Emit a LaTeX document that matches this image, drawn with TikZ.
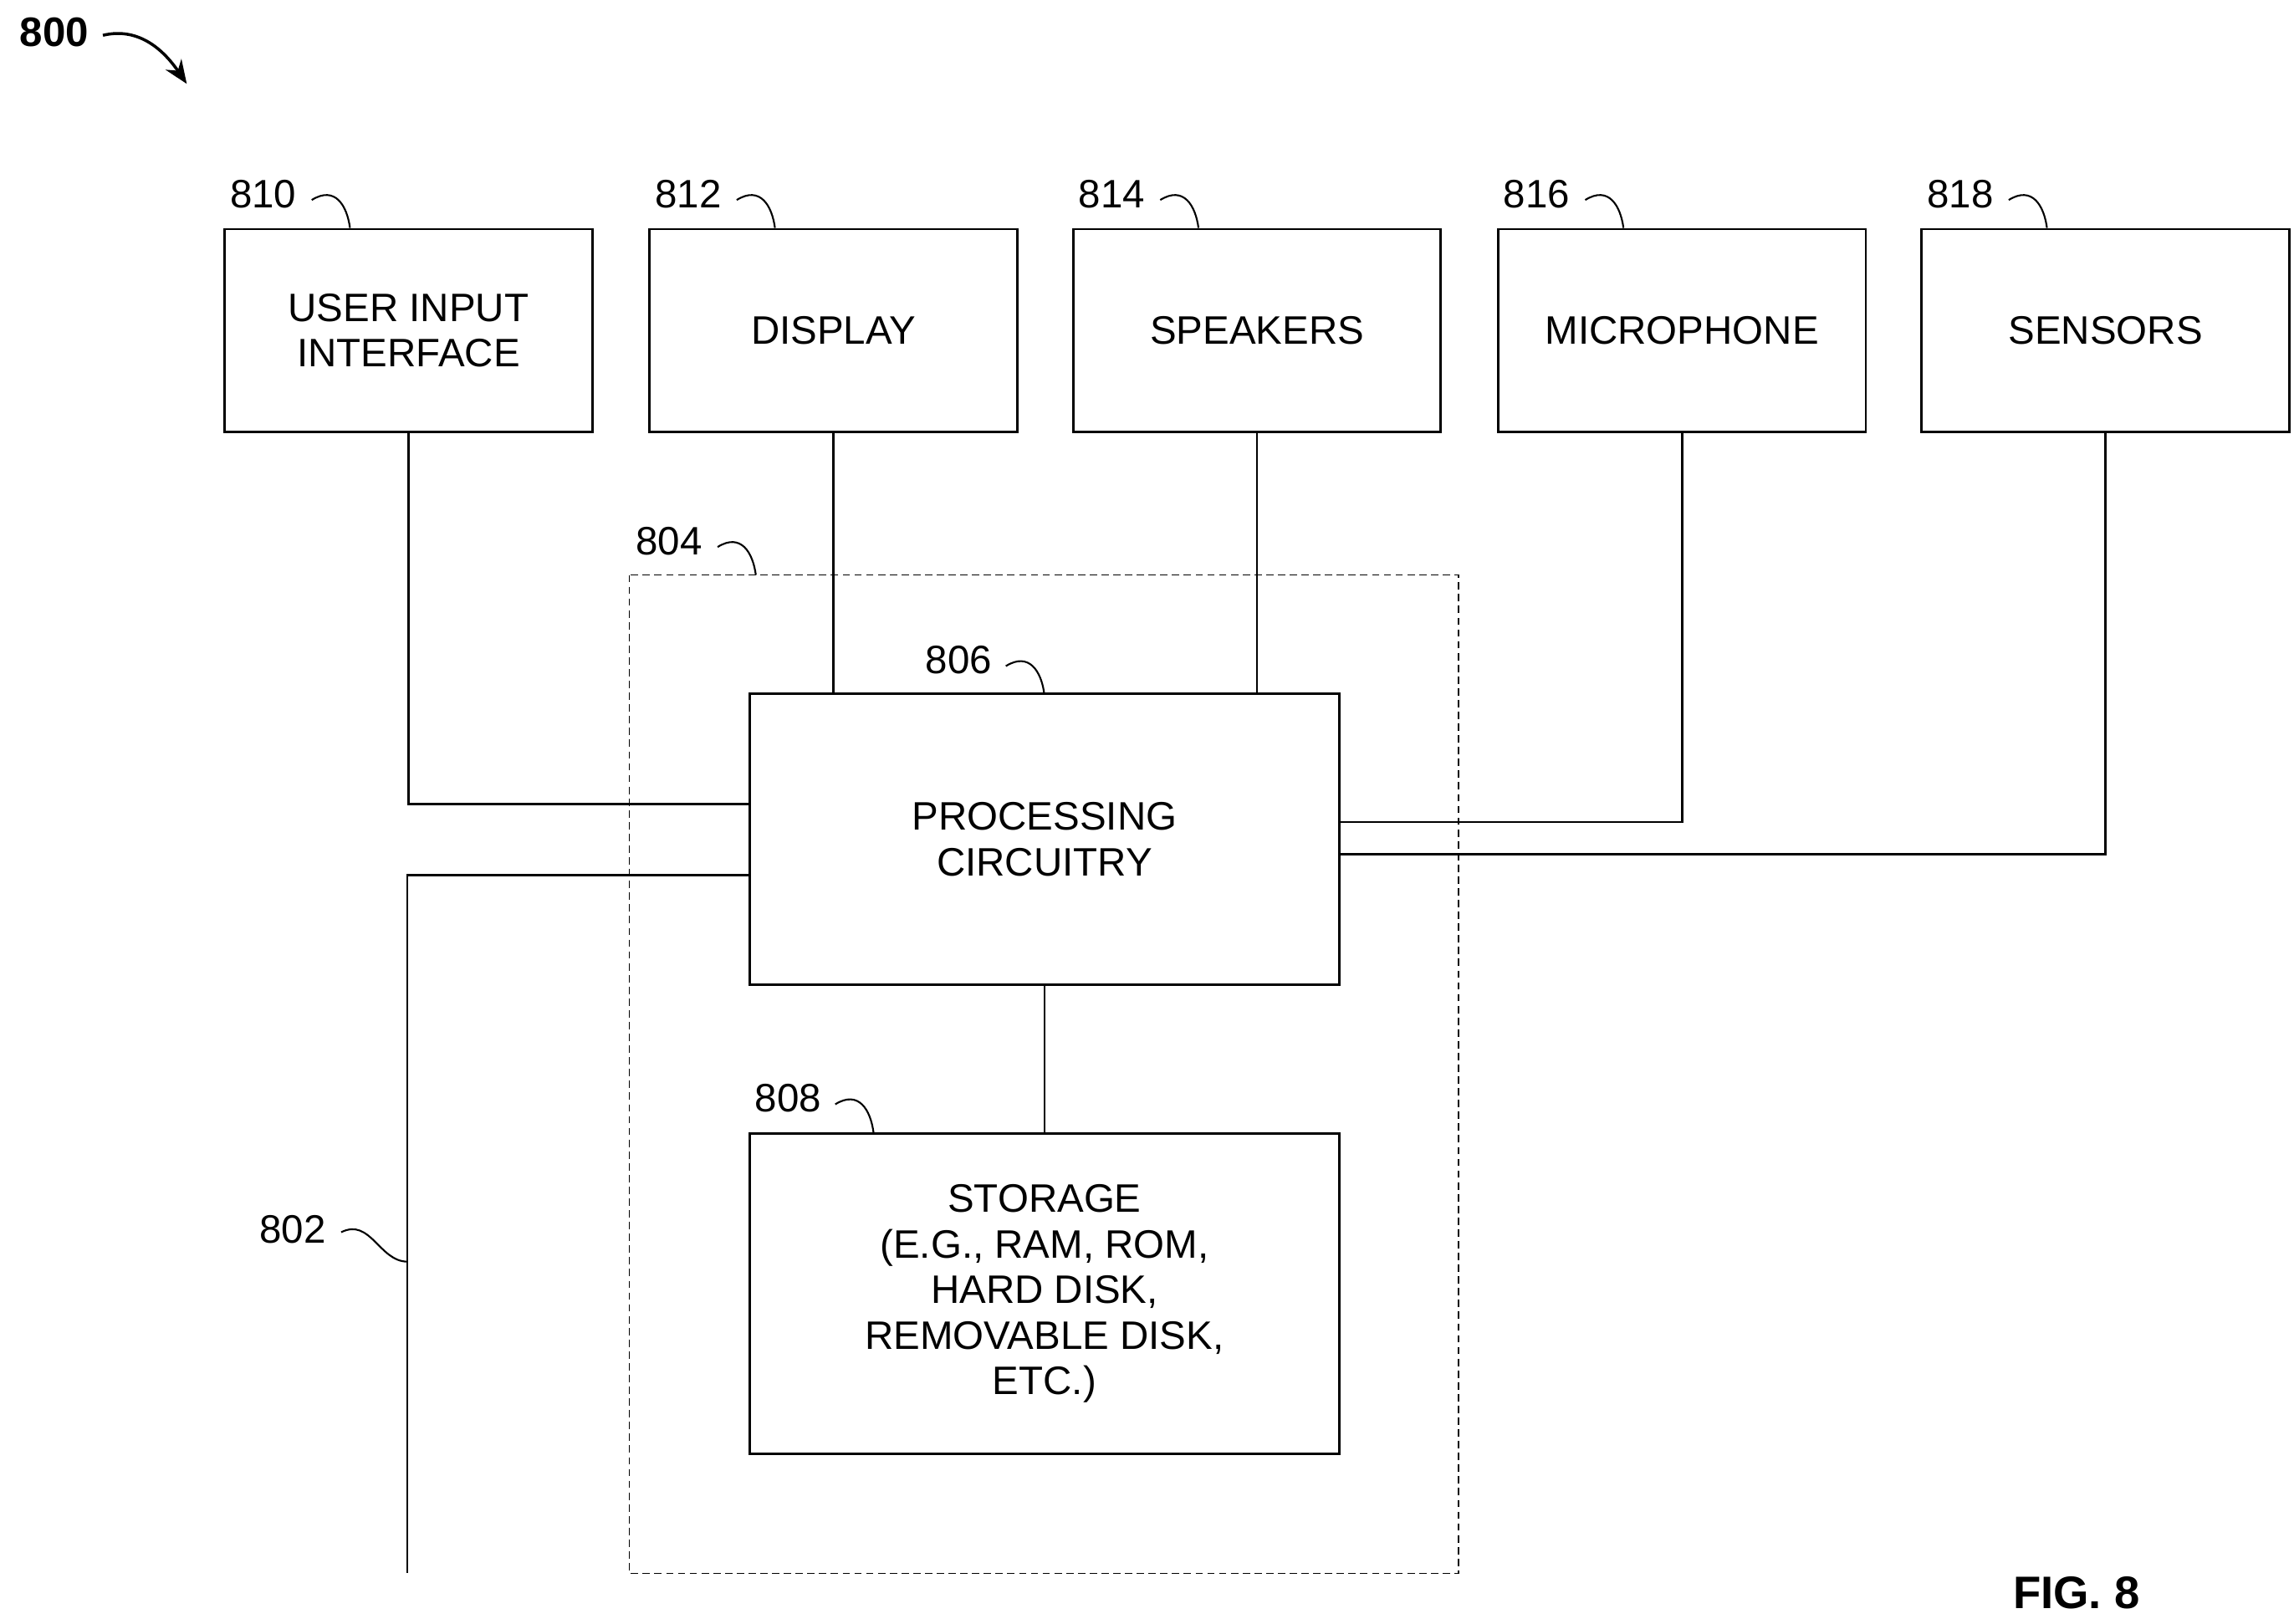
\documentclass[tikz,border=0pt]{standalone}
\usepackage{fontspec}
\setmainfont{Liberation Sans}
\usetikzlibrary{arrows.meta}
\begin{document}
\begin{tikzpicture}[x=1pt,y=-1pt,
  box/.style={draw,line width=1.6pt,inner sep=0pt,align=center,font=\fontsize{27}{31}\selectfont},
  lab/.style={font=\fontsize{27}{31}\selectfont,inner sep=0pt},
  ln/.style={line width=1.6pt},
  hk/.style={line width=1.2pt}]
\useasboundingbox (0,0) rectangle (1560,1104);
\node[lab,font=\fontsize{28}{32}\selectfont\bfseries] (l800) at (37,22) {800};
\draw[line width=2pt,-{Stealth[length=16pt,width=13pt]}] (70,24) .. controls (95,18) and (112,35) .. (127,57);
\foreach \n/\x/\t in {ui/152/{USER INPUT\\INTERFACE},disp/441/DISPLAY,spk/729/SPEAKERS,mic/1018/MICROPHONE,sen/1306/SENSORS}{
  \node[box,minimum width=250pt,minimum height=138pt,anchor=north west] (\n) at (\x,155) {\t};
}
\foreach \l/\x in {810/152,812/441,814/729,816/1018,818/1306}{
  \node[lab] (L\l) at (\x+27,132) {\l};
  \draw[hk] (\x+60,136) .. controls (\x+76,126) and (\x+84,140) .. (\x+86,155);
}
\draw[line width=1pt,dash pattern=on 5pt off 3pt] (428,391) rectangle (992,1070);
\node[lab] (L804) at (455,368) {804};
\draw[hk] (488,372) .. controls (504,362) and (512,376) .. (514,391);
\node[box,minimum width=401pt,minimum height=198pt,anchor=north west] (pc) at (509,471) {PROCESSING\\CIRCUITRY};
\node[lab] (L806) at (652,449) {806};
\draw[hk] (684,453) .. controls (700,443) and (708,457) .. (710,471);
\node[box,minimum width=401pt,minimum height=218pt,anchor=north west] (st) at (509,770) {STORAGE\\(E.G., RAM, ROM,\\HARD DISK,\\REMOVABLE DISK,\\ETC.)};
\node[lab] (L808) at (536,747) {808};
\draw[hk] (568,751) .. controls (584,741) and (592,755) .. (594,770);
\coordinate (busend) at (277,1070);
\draw[ln] (ui.south) |- (pc.west |- 0,547);
\draw[ln] (pc.west |- 0,595) -| (busend);
\draw[ln] (disp.south) -- (pc.north -| disp.south);
\draw[ln] (spk.south) -- (pc.north -| spk.south);
\draw[ln] (mic.south) |- (pc.east |- 0,559);
\draw[ln] (sen.south) |- (pc.east |- 0,581);
\draw[ln] (pc.south) -- (st.north);
\node[lab] (L802) at (199,836) {802};
\draw[hk] (232,838) .. controls (252,828) and (258,858) .. (277,858);
\node[lab,font=\fontsize{31}{35}\selectfont\bfseries] (fig) at (1412,1083) {FIG. 8};
\end{tikzpicture}
\end{document}
